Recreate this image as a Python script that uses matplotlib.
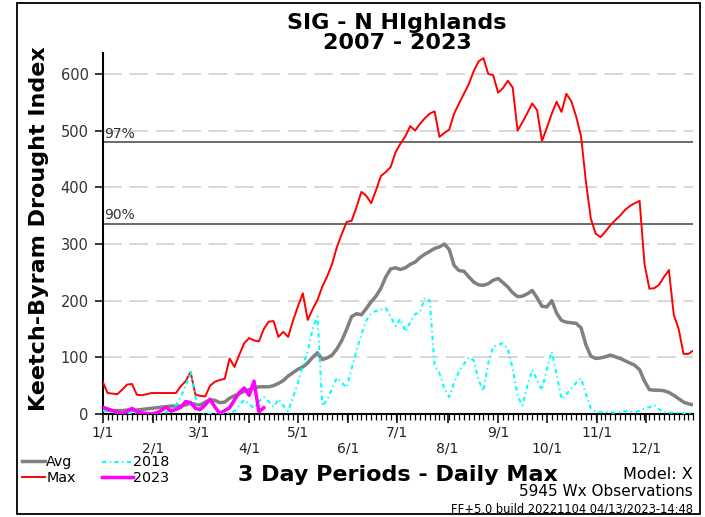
import numpy as np
import matplotlib
matplotlib.use("Agg")
import matplotlib.pyplot as plt
from matplotlib.lines import Line2D
from matplotlib.patches import Rectangle
import matplotlib.transforms as mtransforms

plt.rcParams['font.family'] = ['DejaVu Sans']
plt.rcParams['lines.scale_dashes'] = False

# ---------------- data (3-day periods, starting 1/1) ----------------
period_day = np.arange(0, 366, 3)   # day-of-year of each 3 day period

kbdi_max = [57, 37, 36, 35, 43, 52, 53, 34, 33, 35,
            37, 37, 37, 37, 37, 37, 49, 58, 74, 34,
            32, 31, 50, 57, 60, 62, 98, 83, 105, 125,
            134, 130, 128, 150, 163, 164, 136, 145, 136, 165,
            190, 213, 166, 185, 201, 225, 243, 265, 295, 318,
            339, 341, 365, 392, 385, 372, 395, 420, 427, 436,
            462, 477, 490, 508, 500, 512, 522, 530, 534, 489,
            496, 502, 530, 548, 565, 582, 605, 622, 628, 600,
            598, 567, 575, 588, 576, 500, 515, 531, 548, 536,
            482, 505, 530, 551, 533, 565, 552, 525, 490, 410,
            345, 318, 312, 322, 333, 342, 350, 360, 367, 372,
            376, 265, 221, 222, 228, 242, 254, 175, 150, 106,
            106, 112]

kbdi_avg = [9, 7, 6, 6, 6, 7, 7, 7, 8, 9,
            10, 11, 12, 13, 14, 14, 14, 16, 19, 17,
            16, 21, 25, 24, 20, 21, 28, 32, 36, 40,
            43, 46, 48, 48, 48, 50, 54, 59, 67, 73,
            79, 83, 90, 100, 108, 96, 99, 104, 115, 130,
            150, 172, 177, 175, 186, 198, 208, 222, 242, 256,
            258, 255, 258, 264, 268, 276, 282, 287, 292, 295,
            300, 290, 262, 253, 252, 242, 233, 228, 227, 230,
            236, 239, 232, 224, 214, 207, 208, 212, 218, 205,
            190, 189, 200, 178, 165, 162, 161, 160, 152, 122,
            102, 98, 99, 101, 104, 101, 98, 94, 90, 86,
            78, 58, 43, 42, 42, 41, 38, 33, 27, 21,
            18, 16]

kbdi_2018 = [6, 4, 3, 2, 3, 2, 1, 1, 0, 0,
             0, 0, 1, 3, 8, 16, 30, 50, 75, 30,
             3, 0, 0, 0, 0, 1, 2, 5, 15, 25,
             18, 10, 22, 30, 22, 12, 26, 15, 5, 30,
             55, 85, 110, 150, 172, 14, 25, 45, 64, 55,
             47, 80, 112, 140, 165, 178, 182, 184, 187, 172,
             155, 168, 145, 162, 176, 180, 205, 200, 85, 72,
             45, 30, 55, 75, 88, 100, 95, 60, 40, 90,
             119, 122, 125, 115, 80, 32, 15, 50, 78, 60,
             42, 80, 110, 70, 26, 35, 45, 55, 63, 35,
             10, 4, 3, 4, 3, 2, 3, 5, 4, 3,
             6, 10, 12, 16, 8, 3, 2, 3, 2, 1,
             1, 2]

kbdi_2023 = [12, 9, 6, 3, 0, 5, 10, 4, 2, 1,
             0, 2, 6, 12, 5, 8, 12, 22, 20, 10,
             8, 16, 26, 12, 1, 6, 11, 25, 38, 46,
             33, 58, 4, 11]

y_ticks = [0, 100, 200, 300, 400, 500, 600]
pct_values = [480, 336]
pct_labels = ["97%", "90%"]

month_days = [0, 31, 59, 90, 120, 151, 181, 212, 243, 273, 304, 334]
month_labels = ["1/1", "2/1", "3/1", "4/1", "5/1", "6/1",
                "7/1", "8/1", "9/1", "10/1", "11/1", "12/1"]

series_names = ["Avg", "Max", "2018", "2023"]

# ---------------- figure ----------------
W, H = 705, 517
fig = plt.figure(figsize=(W / 100, H / 100), dpi=100)


def fx(x):
    return x / W


def fy(y):
    return 1 - y / H


ax_l, ax_r, ax_t, ax_b = 102.7, 693.3, 53, 414
ax = fig.add_axes([fx(ax_l), fy(ax_b), (ax_r - ax_l) / W, (ax_b - ax_t) / H])
ax.set_xlim(0, 363)
ax.set_ylim(0, 637)

for s in ['top', 'right']:
    ax.spines[s].set_visible(False)
for s in ['left', 'bottom']:
    ax.spines[s].set_linewidth(1.5)
    ax.spines[s].set_color('black')

ax.set_yticks(y_ticks)
ax.set_yticklabels([str(v) for v in y_ticks])
ax.tick_params(axis='y', length=6, width=1.1, pad=4, labelsize=10.5,
               labelcolor='#333333', color='black')
ax.yaxis.grid(True, color='#d4d4d4', linewidth=1.3, linestyle=(0, (13.5, 5.5)))
ax.set_axisbelow(True)

ax.set_xticks(month_days)
ax.set_xticklabels([])
ax.set_xticks(period_day[period_day <= 363], minor=True)
ax.tick_params(axis='x', which='major', length=6.5, width=1.1, color='black')
ax.tick_params(axis='x', which='minor', length=4, width=0.9, color='black')

trans = mtransforms.blended_transform_factory(ax.transData, ax.transAxes)
for i, (d, lab) in enumerate(zip(month_days, month_labels)):
    yy = (ax_b - 432) / (ax_b - ax_t) if i % 2 == 0 else (ax_b - 448) / (ax_b - ax_t)
    ax.text(d, yy, lab, transform=trans, ha='center', va='center',
            fontsize=10, color='#222222', clip_on=False)

# percentile lines
for v, lab in zip(pct_values, pct_labels):
    ax.axhline(v, color='#444444', linewidth=1.1, zorder=2)
    ax.text(1, v + 2, lab, ha='left', va='bottom', fontsize=10, color='#333333')

# series
ax.plot(period_day[:len(kbdi_avg)], kbdi_avg, color='#808080', linewidth=2.5, zorder=3)
ax.plot(period_day[:len(kbdi_max)], kbdi_max, color='#ff0000', linewidth=1.4, zorder=4)
ax.plot(period_day[:len(kbdi_2018)], kbdi_2018, color='#00ffff', linewidth=1.5,
        linestyle=(0, (3, 2.5, 1, 2.5)), zorder=5)
ax.plot(period_day[:len(kbdi_2023)], kbdi_2023, color='#ff00ff', linewidth=2.5, zorder=6)

# ---------------- titles & labels ----------------
fig.text(fx(397), fy(29), "SIG - N HIghlands", ha='center', va='baseline',
         fontsize=16, fontweight='bold')
fig.text(fx(397), fy(49), "2007 - 2023", ha='center', va='baseline',
         fontsize=16, fontweight='bold')
fig.text(fx(39), fy(229), "Keetch-Byram Drought Index", rotation=90,
         ha='center', va='center', fontsize=16, fontweight='bold')
fig.text(fx(397.5), fy(481), "3 Day Periods - Daily Max", ha='center',
         va='baseline', fontsize=16, fontweight='bold')

fig.text(fx(693), fy(479), "Model: X", ha='right', va='baseline', fontsize=11.5)
fig.text(fx(693), fy(495.5), "5945 Wx Observations", ha='right', va='baseline',
         fontsize=11)
fig.text(fx(693), fy(512), "FF+5.0 build 20221104 04/13/2023-14:48", ha='right',
         va='baseline', fontsize=8.3)

# ---------------- legend ----------------
leg_specs = [
    (series_names[0], '#808080', 2.5, '-', 22, 45, 461, 46, 466),
    (series_names[1], '#ff0000', 1.4, '-', 22, 45, 477, 47, 482),
    (series_names[2], '#00ffff', 1.5, (0, (3, 2.5, 1, 2.5)), 102, 133, 462, 133, 466.5),
    (series_names[3], '#ff00ff', 2.5, '-', 102, 133, 477, 133, 482),
]
for name, col, lw, ls, x0, x1, ly, tx, ty in leg_specs:
    fig.add_artist(Line2D([fx(x0), fx(x1)], [fy(ly), fy(ly)], color=col,
                          linewidth=lw, linestyle=ls, transform=fig.transFigure))
    fig.text(fx(tx), fy(ty), name, ha='left', va='baseline', fontsize=10.3)

# outer frame
fig.add_artist(Rectangle((fx(17), fy(514)), (700 - 17) / W, (514 - 3) / H,
                         fill=False, edgecolor='black', linewidth=1.3,
                         transform=fig.transFigure))

fig.savefig("out.png", dpi=100)
